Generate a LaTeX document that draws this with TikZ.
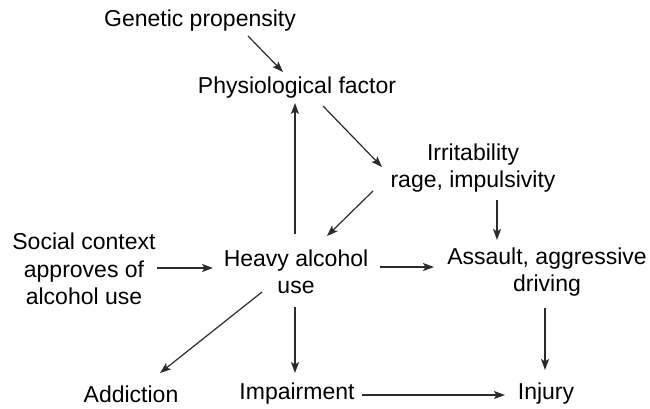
\documentclass[tikz,border=0pt]{standalone}
\usepackage{fontspec}
\setmainfont{Liberation Sans}
\usetikzlibrary{arrows.meta}
\definecolor{inkgray}{HTML}{2B2B2B}
\tikzset{
    factor/.style={align=center, text=black, inner sep=0pt, font=\fontsize{23}{27.5}\selectfont},
    link/.style={draw=inkgray, line width=1.2pt, -{Stealth[length=11pt,width=8pt,inset=2.5pt]}}
}
\begin{document}
\begin{tikzpicture}[x=1pt, y=-1pt]
    \useasboundingbox (0,0) rectangle (650,408);
    % Place the factors
    \node[factor] (gen) at (200,21) {Genetic propensity};
    \node[factor] (phys) at (297,88) {Physiological factor};
    \node[factor] (irr) at (473,168) {Irritability\\rage, impulsivity};
    \node[factor] (social) at (84,269) {Social context\\approves of\\alcohol use};
    \node[factor] (heavy) at (296,272) {Heavy alcohol\\use};
    \node[factor] (assault) at (547,272) {Assault, aggressive\\driving};
    \node[factor] (addict) at (131,394) {Addiction};
    \node[factor] (impair) at (297,394) {Impairment};
    \node[factor] (injury) at (546,394) {Injury};
    % Draw the links, each end shifted from the node centre
    \foreach \a/\ax/\ay/\b/\bx/\by in {
        gen/48/15/phys/-14/-16,
        phys/26/18/irr/-91/-1,
        irr/-100/23/heavy/31/-36,
        irr/24/32/assault/-50/-32,
        heavy/-1/-38/phys/-2/15,
        social/73/-1/heavy/-83/-4,
        heavy/84/-5/assault/-113/-5,
        heavy/-34/20/addict/29/-21,
        heavy/-1/35/impair/-2/-21,
        assault/-2/36/injury/-1/-24,
        impair/65/1/injury/-41/1} {
        \draw[link] ([shift={(\ax,\ay)}]\a.center) -- ([shift={(\bx,\by)}]\b.center);
    }
\end{tikzpicture}
\end{document}
